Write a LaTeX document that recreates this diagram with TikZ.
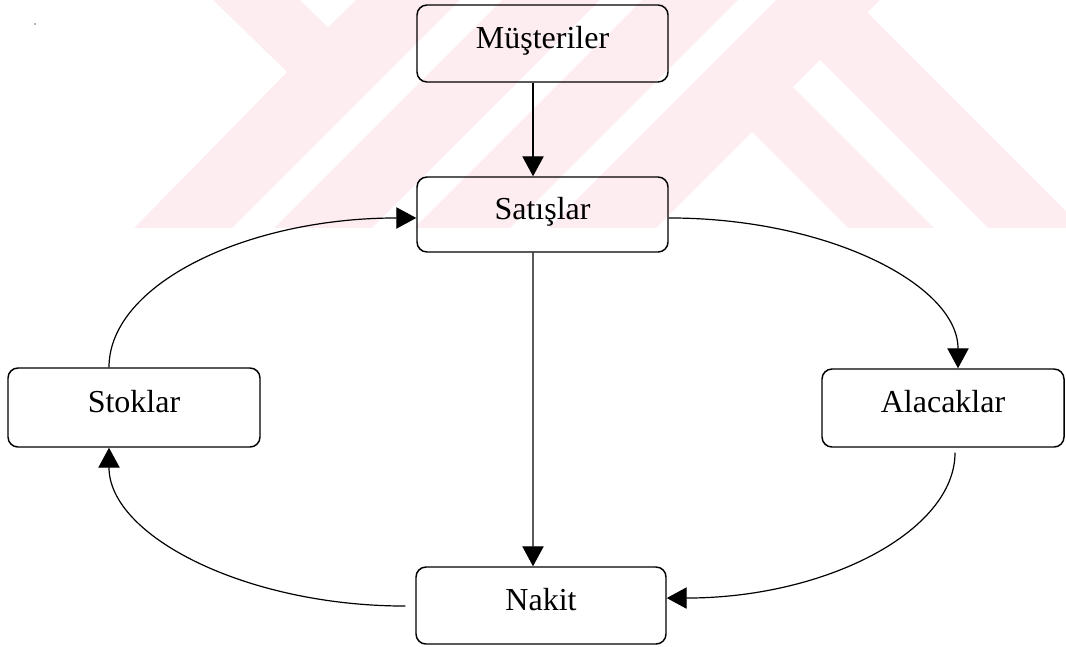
\documentclass[tikz,border=0pt]{standalone}
\usepackage{fontspec}
\setmainfont{Liberation Serif}
\usetikzlibrary{arrows.meta}
\definecolor{wm}{RGB}{253,236,240}
\begin{document}
\begin{tikzpicture}[x=0.75pt,y=-0.75pt,
  box/.style={draw, line width=1.1pt, rounded corners=7.5pt,
    minimum width=188.25pt, minimum height=57.75pt, inner sep=0pt,
    font=\fontsize{24pt}{28pt}\selectfont, text height=18pt, text depth=10.8pt},
  conn/.style={line width=0.9pt, -{Triangle[length=15pt,width=16pt]}},
  gap/.style={fill=white, draw=none}]
\useasboundingbox (0,0) rectangle (1066,646);
\fill[white] (0,0) rectangle (1066,646);
% faint watermark
\fill[wm] (0,0) rectangle (1066,228);
\fill[gap] (0,0) -- (213,0) -- (287,72) -- (134,228) -- (0,228) -- cycle;
\fill[gap] (300,0) -- (328,27) -- (356,0) -- cycle;
\fill[gap] (460,0) -- (502,0) -- (274,228) -- (232,228) -- cycle;
\fill[gap] (600,0) -- (642,0) -- (414,228) -- (372,228) -- cycle;
\fill[gap] (738,0) -- (776,0) -- (548,228) -- (510,228) -- cycle;
\fill[gap] (880,0) -- (1066,0) -- (1066,211) -- (867.5,12.5) -- cycle;
\fill[gap] (820,60) -- (988,228) -- (934,228) -- (793,87) -- cycle;
\fill[gap] (752,132) -- (848,228) -- (656,228) -- cycle;
\fill[black!60] (35,24) circle (0.7pt);
% boxes
\node[box] (mus) at (542.5,43.5) {Müşteriler};
\node[box, minimum height=56.25pt] (sat) at (542.5,214.5) {Satışlar};
\node[box, minimum width=189pt, minimum height=59.25pt] (sto) at (134,407.5) {Stoklar};
\node[box, minimum width=181.5pt, minimum height=58.5pt] (ala) at (943,408) {Alacaklar};
\node[box, minimum width=187.5pt] (nak) at (541,605.5) {Nakit};
% connectors
\draw[conn] ([xshift=-7.1pt]mus.south) -- ([xshift=-7.1pt]sat.north);
\draw[conn] ([xshift=-7.1pt]sat.south) -- ([xshift=-6pt]nak.north);
\draw[conn] ([xshift=-18.75pt]sto.north) .. controls +(0,-83) and +(-170,0) .. ([yshift=-2.6pt]sat.west);
\draw[conn] ([yshift=-2.6pt]sat.east) .. controls +(160,0) and +(0,-83) .. ([xshift=11.25pt]ala.north);
\draw[conn, shorten <=3.75pt] ([xshift=9pt]ala.south) .. controls +(0,83) and +(160,0) .. ([yshift=5.6pt]nak.east);
\draw[conn, shorten <=7.5pt] ([yshift=-0.4pt]nak.west) .. controls +(-170,0) and +(0,88) .. ([xshift=-18.75pt]sto.south);
\end{tikzpicture}
\end{document}
